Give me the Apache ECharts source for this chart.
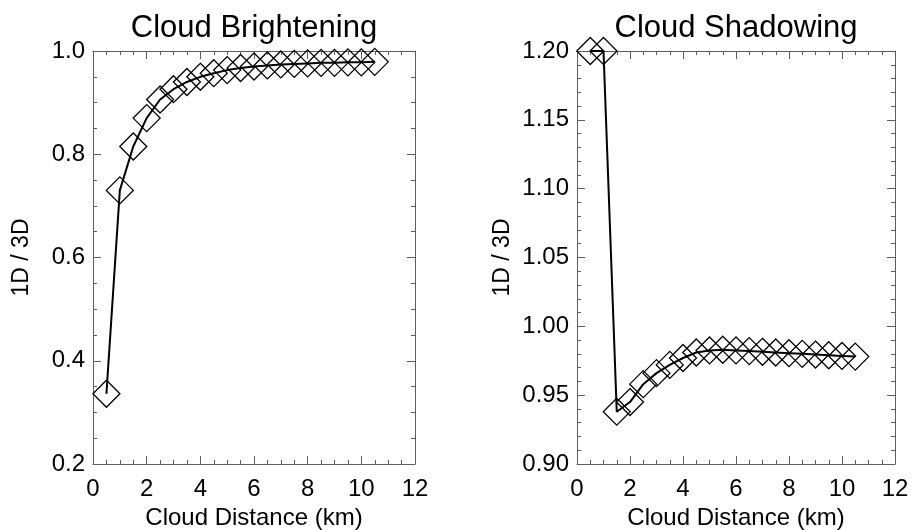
<!DOCTYPE html>
<html>
<head>
<meta charset="utf-8">
<script src="https://cdn.jsdelivr.net/npm/echarts@6/dist/echarts.min.js"></script>
<style>
  html, body { margin: 0; padding: 0; background: #ffffff; }
  #chart { width: 915px; height: 530px; }
</style>
</head>
<body>
<div id="chart"></div>
<script>
// Cloud distance (km) at which each ratio was computed
const distanceKm = [0.5, 1.0, 1.5, 2.0, 2.5, 3.0, 3.5, 4.0, 4.5, 5.0, 5.5,
                    6.0, 6.5, 7.0, 7.5, 8.0, 8.5, 9.0, 9.5, 10.0, 10.5];

// 1D / 3D ratio, brightening side of the cloud
const brighteningRatio = [0.336, 0.730, 0.815, 0.870, 0.906, 0.926, 0.940, 0.950, 0.957, 0.963, 0.967,
                          0.970, 0.972, 0.974, 0.975, 0.976, 0.977, 0.977, 0.978, 0.978, 0.979];

// 1D / 3D ratio, shadowed side of the cloud
const shadowingRatio = [1.200, 1.200, 0.938, 0.945, 0.958, 0.966, 0.972, 0.977, 0.981, 0.9825, 0.983,
                        0.9825, 0.982, 0.9815, 0.981, 0.9805, 0.980, 0.9795, 0.979, 0.9785, 0.978];

const panelTitles = ['Cloud Brightening', 'Cloud Shadowing'];
const xTitle = 'Cloud Distance (km)';
const yTitle = '1D / 3D';

const FONT = '"Liberation Sans", Arial, Helvetica, sans-serif';
const AXIS_GREY = '#5e5e5e';

// fixed plot boxes; outer-bounds fitting is switched off so the boxes keep their size
const grids = [
  { left: 93, top: 51, width: 322, height: 413, containLabel: false, outerBoundsMode: 'none' },
  { left: 577, top: 51, width: 318, height: 413, containLabel: false, outerBoundsMode: 'none' }
];

const yRanges = [
  { min: 0.2, max: 1.0, interval: 0.2, minor: 4, digits: 1 },
  { min: 0.9, max: 1.2, interval: 0.05, minor: 5, digits: 2 }
];

function pairs(xs, ys) {
  return xs.map((x, i) => [x, ys[i]]);
}

function xAxisFor(gridIndex, position, withLabels) {
  return {
    type: 'value',
    gridIndex,
    position,
    min: 0,
    max: 12,
    interval: 2,
    name: withLabels ? xTitle : '',
    nameLocation: 'middle',
    nameGap: 40,
    nameTextStyle: { fontFamily: FONT, fontSize: 24, color: '#000' },
    axisLine: { show: true, onZero: false, lineStyle: { color: AXIS_GREY, width: 1 } },
    axisTick: { show: true, inside: true, length: 8, lineStyle: { color: AXIS_GREY } },
    minorTick: { show: true, splitNumber: 4, length: 4, lineStyle: { color: AXIS_GREY } },
    axisLabel: { show: withLabels, fontFamily: FONT, fontSize: 24, color: '#000', margin: 13 },
    splitLine: { show: false },
    minorSplitLine: { show: false }
  };
}

function yAxisFor(gridIndex, position, withLabels) {
  const r = yRanges[gridIndex];
  return {
    type: 'value',
    gridIndex,
    position,
    min: r.min,
    max: r.max,
    interval: r.interval,
    name: withLabels ? yTitle : '',
    nameLocation: 'middle',
    nameGap: gridIndex === 0 ? 60 : 63,
    nameRotate: 90,
    nameTextStyle: { fontFamily: FONT, fontSize: 23, color: '#000' },
    axisLine: { show: true, onZero: false, lineStyle: { color: AXIS_GREY, width: 1 } },
    axisTick: { show: true, inside: true, length: 8, lineStyle: { color: AXIS_GREY } },
    minorTick: { show: true, splitNumber: r.minor, length: 4, lineStyle: { color: AXIS_GREY } },
    axisLabel: {
      show: withLabels,
      fontFamily: FONT,
      fontSize: 24,
      color: '#000',
      margin: 8,
      formatter: v => v.toFixed(r.digits)
    },
    splitLine: { show: false },
    minorSplitLine: { show: false }
  };
}

function ratioSeries(idx, ys) {
  return {
    type: 'line',
    xAxisIndex: idx * 2,
    yAxisIndex: idx * 2,
    data: pairs(distanceKm, ys),
    clip: false,
    symbol: 'diamond',
    symbolSize: 27,
    showAllSymbol: true,
    lineStyle: { color: '#000', width: 2 },
    itemStyle: { color: 'rgba(0,0,0,0)', borderColor: '#000', borderWidth: 1.3 },
    emphasis: { disabled: true },
    animation: false,
    z: 3
  };
}

const chart = echarts.init(document.getElementById('chart'), null, { renderer: 'canvas' });

chart.setOption({
  backgroundColor: '#ffffff',
  animation: false,
  graphic: panelTitles.map((t, i) => ({
    type: 'text',
    x: grids[i].left + grids[i].width / 2,
    y: 13,
    style: {
      text: t,
      fontFamily: FONT,
      fontSize: 31,
      fill: '#000',
      textAlign: 'center',
      textVerticalAlign: 'top'
    }
  })),
  grid: grids,
  xAxis: [
    xAxisFor(0, 'bottom', true),
    xAxisFor(0, 'top', false),
    xAxisFor(1, 'bottom', true),
    xAxisFor(1, 'top', false)
  ],
  yAxis: [
    yAxisFor(0, 'left', true),
    yAxisFor(0, 'right', false),
    yAxisFor(1, 'left', true),
    yAxisFor(1, 'right', false)
  ],
  series: [
    ratioSeries(0, brighteningRatio),
    ratioSeries(1, shadowingRatio)
  ]
});
</script>
</body>
</html>
